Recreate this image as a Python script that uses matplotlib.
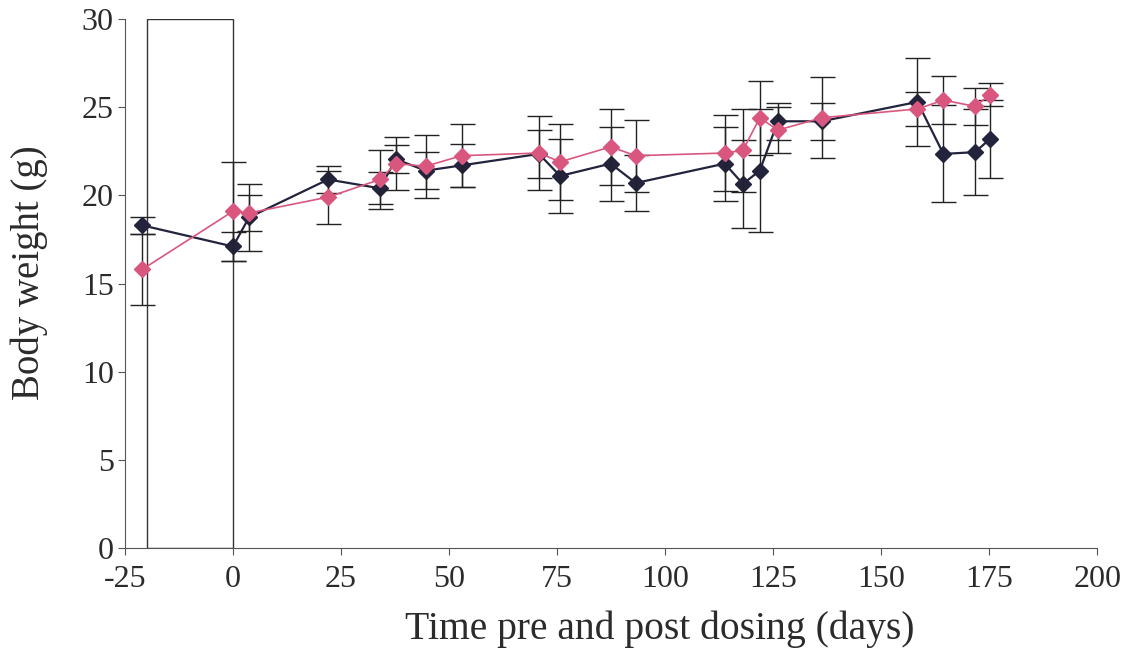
import numpy as np
from matplotlib import pyplot as plt
from matplotlib.patches import Rectangle

# days relative to dosing
days = [-21, 0, 3.7, 22, 34, 37.7, 44.6, 52.9, 70.8, 75.7, 87.4, 93.2,
        113.8, 118, 121.9, 126.1, 136.2, 158.4, 164.4, 171.7, 175.2]

# dark (navy) group
dark_mean = [18.3, 17.1, 18.75, 20.9, 20.4, 22.05, 21.4, 21.7, 22.35, 21.1, 21.8, 20.7,
             21.8, 20.65, 21.4, 24.2, 24.2, 25.3, 22.35, 22.45, 23.2]
dark_err = [0.5, 0.8, 1.9, 0.75, 0.9, 0.8, 1.05, 1.2, 1.35, 2.1, 2.1, 1.6,
            2.1, 2.5, 3.5, 1.05, 1.05, 2.5, 2.75, 2.45, 2.2]

# pink group
pink_mean = [15.8, 19.1, 19.0, 19.9, 20.9, 21.8, 21.65, 22.25, 22.4, 21.9, 22.75, 22.25,
             22.4, 22.55, 24.4, 23.7, 24.4, 24.9, 25.4, 25.05, 25.7]
pink_err = [2.0, 2.8, 1.0, 1.5, 1.7, 1.5, 1.8, 1.8, 2.1, 2.15, 2.15, 2.05,
            2.15, 2.35, 2.1, 1.3, 2.3, 0.95, 1.35, 1.05, 0.65]

# dosing period box
box_start = -20
box_end = 0
box_top = 30

x_ticks = [-25, 0, 25, 50, 75, 100, 125, 150, 175, 200]
y_ticks = [0, 5, 10, 15, 20, 25, 30]

plt.rcParams['font.family'] = ['Liberation Serif', 'DejaVu Serif']
text_col = "#2b2b2b"

fig = plt.figure(figsize=(11.3, 6.56), dpi=100)
ax = fig.add_axes([0.1106, 0.1646, 0.8604, 0.8064])

ax.add_patch(Rectangle((box_start, 0), box_end - box_start, box_top,
                       fill=False, edgecolor="#333333", linewidth=1.0, zorder=1))

ax.errorbar(days, dark_mean, yerr=dark_err, color="#23233d", ecolor="#222222",
            elinewidth=1.0, capsize=9, capthick=1.0, linewidth=1.6,
            marker="D", markersize=8.5, zorder=3)
ax.errorbar(days, pink_mean, yerr=pink_err, color="#d9577f", ecolor="#222222",
            elinewidth=1.0, capsize=9, capthick=1.0, linewidth=1.2,
            marker="D", markersize=8.5, zorder=4)

ax.set_xlim(-25, 200)
ax.set_ylim(0, 30)
ax.set_xticks(x_ticks)
ax.set_yticks(y_ticks)
ax.set_xticklabels([str(t) for t in x_ticks])

ax.spines["top"].set_visible(False)
ax.spines["right"].set_visible(False)
for s in ["left", "bottom"]:
    ax.spines[s].set_color("#555555")
    ax.spines[s].set_linewidth(0.8)

ax.tick_params(direction="out", length=5, width=0.8, color="#555555",
               labelsize=23, labelcolor=text_col)
ax.tick_params(axis="y", pad=3)
ax.tick_params(axis="x", pad=7)
ax.set_xlabel("Time pre and post dosing (days)", fontsize=28.5, color=text_col)
ax.set_ylabel("Body weight (g)", fontsize=28, color=text_col)
ax.xaxis.set_label_coords(0.55, -0.118)
ax.yaxis.set_label_coords(-0.079, 0.52)

fig.savefig("out.png", dpi=100)
